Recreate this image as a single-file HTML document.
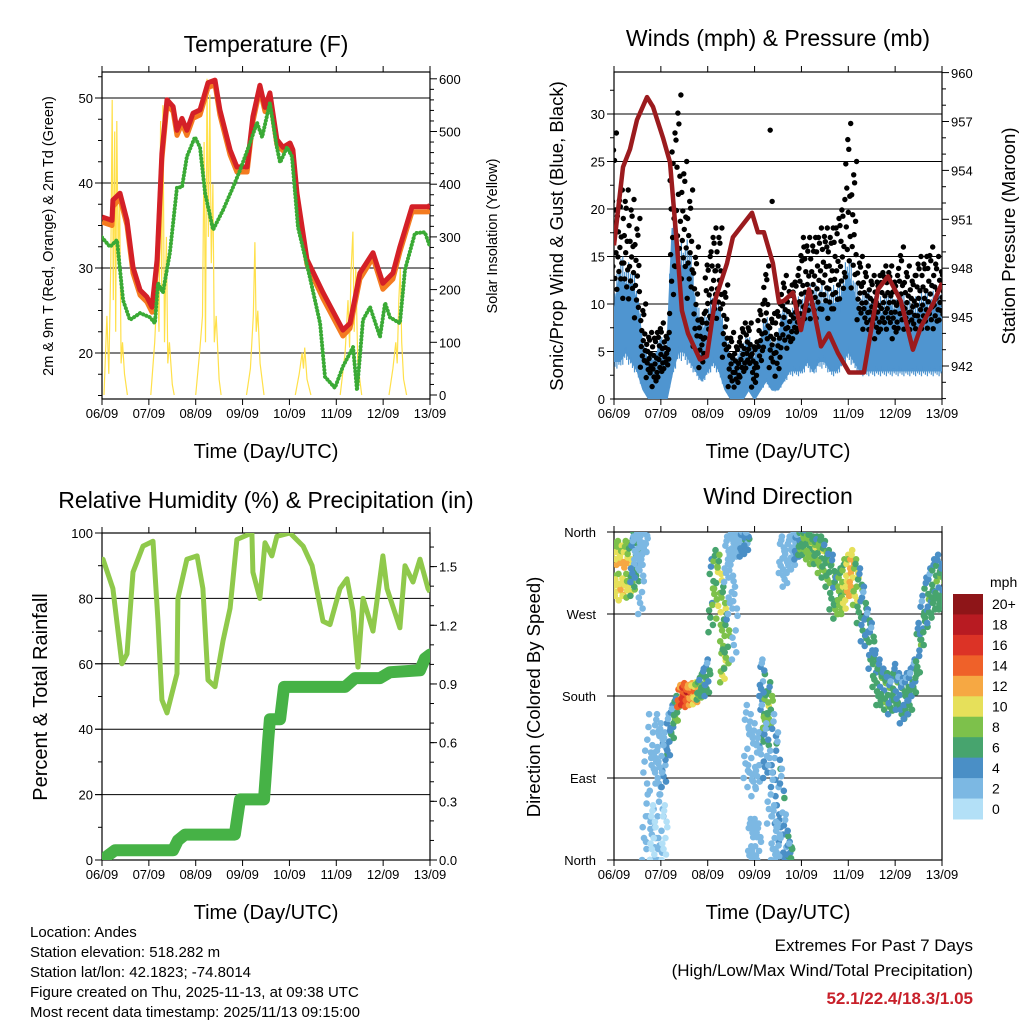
<!DOCTYPE html>
<html><head><meta charset="utf-8"><title>Station Meteogram</title>
<style>
html,body{margin:0;padding:0;background:#fff;}
svg{display:block;font-family:"Liberation Sans",Arial,sans-serif;}
</style></head>
<body>
<svg id="chart" width="1024" height="1024" viewBox="0 0 1024 1024" xmlns="http://www.w3.org/2000/svg">
<defs>
<clipPath id="c1"><rect x="102" y="72" width="328" height="327"/></clipPath>
<clipPath id="c2"><rect x="614" y="72" width="328" height="327"/></clipPath>
<clipPath id="c3"><rect x="102" y="533" width="328" height="327"/></clipPath>
<clipPath id="c4"><rect x="614" y="532" width="328" height="328"/></clipPath>
</defs>
<g id="root"></g>
<text x="266" y="52" font-size="23" text-anchor="middle">Temperature (F)</text>
<text x="778" y="46" font-size="23" text-anchor="middle">Winds (mph) &amp; Pressure (mb)</text>
<text x="266" y="508" font-size="23" text-anchor="middle">Relative Humidity (%) &amp; Precipitation (in)</text>
<text x="778" y="504" font-size="23" text-anchor="middle">Wind Direction</text>
<text x="266" y="458" font-size="20" text-anchor="middle">Time (Day/UTC)</text>
<text x="778" y="458" font-size="20" text-anchor="middle">Time (Day/UTC)</text>
<text x="266" y="919" font-size="20" text-anchor="middle">Time (Day/UTC)</text>
<text x="778" y="919" font-size="20" text-anchor="middle">Time (Day/UTC)</text>
<text transform="translate(53,236) rotate(-90)" font-size="14.5" text-anchor="middle">2m &amp; 9m T (Red, Orange) &amp; 2m Td (Green)</text>
<text transform="translate(497,236) rotate(-90)" font-size="14.5" text-anchor="middle">Solar Insolation (Yellow)</text>
<text transform="translate(563,236) rotate(-90)" font-size="18.5" text-anchor="middle">Sonic/Prop Wind &amp; Gust (Blue, Black)</text>
<text transform="translate(1015,236) rotate(-90)" font-size="18.5" text-anchor="middle">Station Pressure (Maroon)</text>
<text transform="translate(47,697) rotate(-90)" font-size="20" text-anchor="middle">Percent &amp; Total Rainfall</text>
<text transform="translate(540,697) rotate(-90)" font-size="18.5" text-anchor="middle">Direction (Colored By Speed)</text>
<g font-size="15">
<text x="30" y="937">Location: Andes</text>
<text x="30" y="957">Station elevation: 518.282 m</text>
<text x="30" y="977">Station lat/lon: 42.1823; -74.8014</text>
<text x="30" y="997">Figure created on Thu, 2025-11-13, at 09:38 UTC</text>
<text x="30" y="1017">Most recent data timestamp: 2025/11/13 09:15:00</text>
</g>
<text x="973" y="951" font-size="17" text-anchor="end">Extremes For Past 7 Days</text>
<text x="973" y="976" font-size="17" text-anchor="end">(High/Low/Max Wind/Total Precipitation)</text>
<text x="973" y="1004" font-size="17" font-weight="bold" fill="#c8202a" text-anchor="end">52.1/22.4/18.3/1.05</text>
</svg>
<script>
const dayLabels = ["06/09","07/09","08/09","09/09","10/09","11/09","12/09","13/09"];
const tempTimes = [0,5.1,5.6,9.2,12.8,15.9,19.5,23,25.6,28.2,30.7,33.3,36.4,38.4,41,43.5,46.6,50.2,54.3,57.9,60.4,65.6,69.1,74.3,77.3,80.9,83.5,86,89.6,92.7,96.3,97.8,99.9,105,113.2,123.4,127,132.1,138.8,143.9,149,152.6,158.8,167,168];
const temp9m = [36.0,35.6,38,38.8,35.6,30.1,27.4,26.6,25.4,31,43.5,49.8,49,46.2,47.6,46.2,48.2,48.6,51.8,52.1,48.6,43.9,41.9,41.9,47.8,51.5,48.9,50.6,45.1,44.2,44.7,43.9,38.8,31,27.1,22.7,23.5,29.4,31.8,28.2,29.4,32.5,37.2,37.2,37.4];
const temp2m = [35.4,35.0,37.2,38.2,35.0,29.4,26.8,26.0,24.8,30.3,42.8,49.2,48.4,45.6,47.0,45.6,47.6,48.0,51.2,51.6,48.0,43.3,41.3,41.3,47.2,51.0,48.4,50.1,44.5,43.8,44.2,43.5,38.3,30.4,26.4,22.0,22.9,28.7,31.2,27.5,28.7,31.9,36.6,36.6,36.8];
const tdTimes = [0,4.1,7.7,10.8,14.3,19.5,24.6,27.1,28.7,31.2,34.8,38.4,41,43.5,47.6,50.2,52.8,56.9,62,67.1,70.7,75.8,79.4,82,86,89.6,91.2,94.8,97.3,100.4,106.5,111.7,114.2,119.3,123.4,128.6,130.6,133.7,137.3,142.4,145,147.5,152.6,155.2,160.3,165.4,168];
const dewPoint = [33.6,32.5,33.3,26.2,23.9,24.7,24.2,23.5,28.2,27.1,31.8,39.5,39.5,43.1,45.4,44.2,38.8,34.5,36.8,39.5,41.5,44.7,47.1,45.4,49.4,44.2,42.4,44.2,43.1,34.8,28.9,23.5,17.2,15.9,18.4,20.7,15.6,23.9,25.4,21.9,25.9,24.2,23.5,29.8,34.1,34.2,32.5];
const solarTimes = [0,1,2.5,3.5,4.5,5.2,5.8,6.5,7,7.6,8.3,9,9.8,10.5,11.5,13,25,27,28.5,29.2,30,30.6,31.2,32,33,33.7,34.5,36,37,48,50,51.5,52.3,53,53.8,54.5,55.2,56,56.8,57.5,58.5,60,61,74,76,77.5,78.3,79,79.8,81,83,99,101,102.5,103.2,103.8,105,107,122,124.5,126,126.8,127.5,128.5,129.2,130,131,133,147,149,150.5,151.2,152,152.8,153.5,154.5,156,168];
const solarValues = [0,0,150,40,250,560,180,500,120,520,250,380,60,100,40,0,0,100,220,120,520,200,550,100,300,60,100,20,0,0,80,150,480,100,600,300,570,250,400,100,150,30,0,0,50,150,290,120,160,60,0,0,40,80,50,90,30,0,0,80,180,90,230,310,120,240,60,0,0,50,100,60,180,240,100,30,0,0];
const windTimes = [0,3,6,9,12,15,18,21,24,27,30,33,36,39,42,45,48,51,54,57,60,63,66,69,72,75,78,81,84,87,90,93,96,99,102,105,108,111,114,117,120,123,126,129,132,135,138,141,144,147,150,153,156,159,162,165,168];
const windLo = [4,4,5,4,3,1,0,0,0,0,3,5,5,4,3,2,3,4,3,1,0,0,0,1,0,1,2,1,1,2,3,3,3,4,3,4,4,3,3,4,5,4,3,3,3,3,3,3,3,3,3,3,3,3,3,3,3];
const windHi = [9,13,12,12,10,5,4,4,6,4,18,14,14,14,9,7,8,10,9,6,4,4,5,6,4,6,8,5,6,9,7,9,9,10,10,10,10,10,10,11,13,11,9,10,9,9,9,10,9,10,9,9,9,10,9,10,10];
const gustLo = [10,11,10,10,8,3,2,1,2,3,8,13,12,10,5,3,6,8,8,4,1,1,2,3,1,3,5,3,2,5,5,6,7,8,8,8,9,8,9,10,12,11,8,7,7,6,7,7,6,7,7,7,7,7,7,7,8];
const gustHi = [28,22,22,21,19,10,7,7,8,7,28,32,25,22,16,9,15,18,18,12,7,6,8,8,6,10,14,9,10,13,12,13,16,17,17,18,18,18,19,21,29,25,15,14,13,13,14,14,13,16,14,13,15,15,16,15,14];
const gustOutlierTimes = [80,81,52,97,109];
const gustOutlierValues = [28.3,20.8,13.5,17,16];
const pressTimes = [0,4.6,8.2,11.8,16.9,20,25.1,28.7,32.3,34.8,37.9,44,47.6,51.7,57.9,60.9,70.7,73.7,76.8,81.4,84.5,87,91.7,95.8,99.9,102.4,106,110.1,114.7,120.4,128,135.2,140.3,146.9,153.1,157.2,163.8,168];
const pressure = [949.4,954.2,955.3,957.1,958.5,957.9,956,954.5,949.3,945.4,944,942.4,942.6,946,948.3,949.9,951.4,950.2,950.2,948.3,945.9,946,946.5,944.2,946.7,945.4,943.2,944,942.8,941.6,941.6,946.7,947.5,946,943,944.4,945.9,947.1];
const rhTimes = [0,0.5,5.6,10.2,12.8,15.9,21,26.1,28.7,30.7,33.3,38.4,38.9,43.5,48.7,51.7,54.3,57.9,62,65.6,69.1,76.8,77.3,80.9,83.5,87,89.6,96.3,103,107.6,113.2,116.8,121.9,125.5,128.6,131.1,133.7,138.8,143.9,146,152.6,155.2,159.3,162.9,167,168];
const rhValues = [91,92,83,60,63,88,96,97.5,73,49,45,57,80,92,93,83,55,53,67,77,98,100,88,80,97,93,99,100,96,90,73,72,83,86,76,59,80,70,93,83,71,90,85,92,83,82];
const precipTimes = [0,6.7,36.4,38.9,42.5,68,70.7,83,84,85,86,91.2,93.2,124.5,129.6,142.4,147.5,162.9,165.4,168];
const precipValues = [0,0.05,0.05,0.1,0.13,0.13,0.31,0.31,0.45,0.6,0.72,0.72,0.885,0.885,0.93,0.93,0.96,0.97,1.03,1.05];
const dirTimes = [0,2,4,6,8,10,12,14,16,18,20,22,24,26,28,30,32,34,36,38,40,42,44,46,48,50,52,54,56,58,60,62,64,66,68,70,72,74,76,78,80,82,84,86,88,90,92,94,96,98,100,102,104,106,108,110,112,114,116,118,120,122,124,126,128,130,132,134,136,138,140,142,144,146,148,150,152,154,156,158,160,162,164,166,168];
const dirValues = [318,320,315,320,318,325,330,340,350,90,70,60,40,110,135,150,165,180,182,180,182,183,188,195,200,290,310,300,270,330,345,345,350,348,350,20,20,15,150,165,170,120,90,60,20,335,340,345,350,350,345,340,340,335,330,320,305,290,295,300,310,315,305,290,270,255,235,210,195,190,185,180,190,185,175,180,185,200,230,260,280,290,300,305,300];
const dirSpread = [30,30,30,30,30,35,30,20,15,70,70,60,40,30,25,20,15,12,12,12,12,12,12,15,20,40,30,35,30,25,15,15,12,15,12,25,25,25,25,20,25,40,50,40,30,20,20,15,15,15,15,15,15,20,20,20,30,25,25,30,25,25,25,30,30,20,25,20,25,20,20,20,25,20,25,25,25,20,30,30,30,30,30,30,25];
const dirSpeeds = [9,9,10,9,8,6,5,2,1,1,1,1,1,3,3,4,6,13,15,13,12,10,6,5,4,5,7,8,7,2,2,1,2,3,3,1,1,1,4,7,6,3,3,3,3,2,2,3,6,6,7,7,6,7,6,6,5,6,7,8,10,11,8,5,4,4,4,5,5,5,6,4,5,4,4,4,4,4,5,4,5,4,5,5,5];
const dir2Times = [10,12,14,16,20,22,24,26,56,58,60,62,68,70,72,74,76,78,80,82,84,86,88,90];
const dir2Values = [330,345,300,60,30,130,120,30,215,240,300,260,130,120,110,110,200,120,80,30,20,335,320,10];
const dir2Spread = [25,15,30,60,30,30,30,30,20,30,30,40,40,40,40,30,20,30,40,30,20,20,20,10];
const dir2Speeds = [3,2,2,1,0,2,2,0,8,6,1,1,1,1,2,2,3,3,2,1,2,2,1,4];
const speedLabels = ["0","2","4","6","8","10","12","14","16","18","20+"];
const speedColors = ["#b3e0f7","#7cb8e3","#4a8fc6","#47a46e","#7dc14b","#e6e05a","#f6a843","#ef6129","#dc3326","#b81b22","#8e1518"];

const NS = "http://www.w3.org/2000/svg";
const root = document.getElementById("root");
function mk(tag, attrs, parent) {
  const e = document.createElementNS(NS, tag);
  for (const k in attrs) e.setAttribute(k, attrs[k]);
  (parent || root).appendChild(e);
  return e;
}
function panel(x0, x1, y0, y1) { return { x0, x1, y0, y1, x: t => x0 + t / 168 * (x1 - x0) }; }
const P1 = panel(102, 430, 72, 399), P2 = panel(614, 942, 72, 399), P3 = panel(102, 430, 533, 860), P4 = panel(614, 942, 532, 860);
const yTemp = v => 353 - (v - 20) * 8.5;
const ySolar = v => 395 - v * 0.527;
const yMph = v => 399 - v * 9.5;
const yPres = v => 366 - (v - 942) * 16.3;
const yRH = v => 860 - v * 3.27;
const yPrecip = v => 860 - v * 195.6;
const yDir = v => 860 - v / 360 * 328;

function frame(P, name) {
  const g = mk("g", {});
  
  
  for (let i = 0; i < dayLabels.length; i++) {
    const x = P.x(i * 24);
    mk("line", { x1: x, x2: x, y1: P.y1, y2: P.y1 + 6, stroke: "#000", "stroke-width": 1 }, g);
    mk("line", { x1: x, x2: x, y1: P.y0, y2: P.y0 - 6, stroke: "#000", "stroke-width": 1 }, g);
    const t = mk("text", { x: x, y: P.y1 + 19, "font-size": 13, "text-anchor": "middle" }, g);
    t.textContent = dayLabels[i];
    
    
  }
  return g;
}
function box(P, g) { mk("rect", { x: P.x0, y: P.y0, width: P.x1 - P.x0, height: P.y1 - P.y0, fill: "none", stroke: "#000", "stroke-width": 1.2 }, g); }
function hgrid(P, y, g) { mk("line", { x1: P.x0 - 7, x2: P.x1, y1: y, y2: y, stroke: "#000", "stroke-width": 1 }, g); }
function rtick(P, y, len, g) { mk("line", { x1: P.x1, x2: P.x1 + len, y1: y, y2: y, stroke: "#000", "stroke-width": 1 }, g); }
function ltick(P, y, len, g) { mk("line", { x1: P.x0, x2: P.x0 - len, y1: y, y2: y, stroke: "#000", "stroke-width": 1 }, g); }
function label(x, y, txt, anchor, size, g, name) {
  const t = mk("text", { x: x, y: y + 5, "font-size": size || 13, "text-anchor": anchor }, g);
  t.textContent = txt;
  
  
  return t;
}
function pathFrom(ts, vs, P, yf) {
  let d = "";
  for (let i = 0; i < ts.length; i++) d += (i ? "L" : "M") + P.x(ts[i]).toFixed(1) + " " + yf(vs[i]).toFixed(1);
  return d;
}
function colorFor(s) {
  let i = Math.round(s / 2);
  if (i < 0) i = 0; if (i > 10) i = 10;
  return speedColors[i];
}

// panel 1
{
  const g = frame(P1, "temperature");
  [20, 30, 40, 50].forEach(v => { hgrid(P1, yTemp(v), g); label(P1.x0 - 9, yTemp(v), String(v), "end", 13, g, 'temp-y-tick'); });
  for (let v = 15; v <= 53; v += 2.5) ltick(P1, yTemp(v), 4, g);
  for (let v = 0; v <= 600; v += 20) rtick(P1, ySolar(v), v % 100 === 0 ? 7 : 4, g);
  for (let v = 0; v <= 600; v += 100) label(P1.x1 + 9, ySolar(v), String(v), "start", 13, g, 'solar-y-tick');
  const c = mk("g", { "clip-path": "url(#c1)" });
  let d = "", pen = false;
  for (let i = 0; i < solarTimes.length; i++) {
    const x = P1.x(solarTimes[i]).toFixed(1), y = ySolar(solarValues[i]).toFixed(1);
    if (i > 0 && solarValues[i] === 0 && solarValues[i - 1] === 0) { pen = false; }
    d += (pen ? "L" : "M") + x + " " + y;
    pen = true;
  }
  const s = mk("path", { d: d, fill: "none", stroke: "#ffe04a", "stroke-width": 1.2 }, c);
  
  
  const o = mk("path", { d: pathFrom(tempTimes, temp2m, P1, yTemp), fill: "none", stroke: "#f47b20", "stroke-width": 5, "stroke-linejoin": "round" }, c);
  
  
  const r = mk("path", { d: pathFrom(tempTimes, temp9m, P1, yTemp), fill: "none", stroke: "#d42027", "stroke-width": 5, "stroke-linejoin": "round" }, c);
  
  
  const dp = mk("path", { d: pathFrom(tdTimes, dewPoint, P1, yTemp), fill: "none", stroke: "#3aaa35", "stroke-width": 4, "stroke-dasharray": "0.1 3.4", "stroke-linecap": "round" }, c);
  
  
  box(P1, g);
}

// panel 2
{
  const g = frame(P2, "winds");
  [5, 10, 15, 20, 25, 30].forEach(v => hgrid(P2, yMph(v), g));
  [0, 5, 10, 15, 20, 25, 30].forEach(v => label(P2.x0 - 9, yMph(v), String(v), "end", 13, g, 'wind-y-tick'));
  for (let v = 0; v <= 34; v += 2.5) ltick(P2, yMph(v), 4, g);
  for (let v = 940; v <= 960; v += 1) { const y = yPres(v); if (y >= 72 && y <= 399) rtick(P2, y, v % 3 === 0 ? 7 : 4, g); }
  for (let v = 942; v <= 960; v += 3) label(P2.x1 + 9, v === 960 ? 73 : yPres(v), String(v), "start", 13, g, 'pressure-y-tick');
  const c = mk("g", { "clip-path": "url(#c2)" });
  let d = "";
  for (let i = 0; i < windTimes.length; i++) d += (i ? "L" : "M") + P2.x(windTimes[i]).toFixed(1) + " " + yMph(windHi[i]).toFixed(1);
  for (let i = windTimes.length - 1; i >= 0; i--) d += "L" + P2.x(windTimes[i]).toFixed(1) + " " + yMph(windLo[i]).toFixed(1);
  const band = mk("path", { d: d + "Z", fill: "#4f95d0", stroke: "#4f95d0", "stroke-width": 2 }, c);
  
  
  const jag = [0.9, 1.15, 0.95, 1.2, 0.85, 1.1];
  const stepW = P2.x(3) - P2.x(0);
  let sd = "";
  for (let i = 0; i < windTimes.length - 1; i++) {
    for (let k = 0; k < jag.length; k++) {
      const f = k / jag.length;
      const hi = (windHi[i] + (windHi[i + 1] - windHi[i]) * f) * jag[k];
      const lo = (windLo[i] + (windLo[i + 1] - windLo[i]) * f) * (2 - jag[k]);
      const x = (P2.x(windTimes[i]) + f * stepW).toFixed(1);
      sd += "M" + x + " " + yMph(hi).toFixed(1) + "L" + x + " " + yMph(lo).toFixed(1);
    }
  }
  const sp = mk("path", { d: sd, stroke: "#4f95d0", "stroke-width": 1.2, fill: "none" }, c);
  
  
  const fr = [0.05, 0.9, 0.3, 0.6, 0.15, 0.75, 0.45, 1.0, 0.22, 0.55, 0.36, 0.84];
  const gg = mk("g", {}, c);
  
  
  for (let i = 0; i < windTimes.length; i++) {
    for (let k = 0; k < fr.length; k++) {
      const v = gustLo[i] + (gustHi[i] - gustLo[i]) * fr[k];
      const dx = ((k * 5) % fr.length) / fr.length - 0.5;
      const dot = mk("circle", { cx: (P2.x(windTimes[i]) + dx * stepW).toFixed(1), cy: yMph(v).toFixed(1), r: 2.7, fill: "#000" }, gg);
      
      
    }
  }
  for (let i = 0; i < gustOutlierTimes.length; i++) {
    const dot = mk("circle", { cx: P2.x(gustOutlierTimes[i]), cy: yMph(gustOutlierValues[i]), r: 2.7, fill: "#000" }, gg);
    
    
  }
  const p = mk("path", { d: pathFrom(pressTimes, pressure, P2, yPres), fill: "none", stroke: "#9b1b1e", "stroke-width": 4.5, "stroke-linejoin": "round" }, c);
  
  
  box(P2, g);
}

// panel 3
{
  const g = frame(P3, "humidity");
  [20, 40, 60, 80].forEach(v => hgrid(P3, yRH(v), g));
  [0, 20, 40, 60, 80, 100].forEach(v => label(P3.x0 - 9, yRH(v), String(v), "end", 13, g, 'rh-y-tick'));
  for (let v = 0; v <= 100; v += 10) ltick(P3, yRH(v), v % 20 === 0 ? 7 : 4, g);
  for (let v = 0; v <= 1.65; v += 0.1) rtick(P3, yPrecip(v), 4, g);
  for (let i = 0; i <= 5; i++) { const v = i * 0.3; rtick(P3, yPrecip(v), 7, g); label(P3.x1 + 9, yPrecip(v), v.toFixed(1), "start", 13, g, 'precip-y-tick'); }
  const c = mk("g", { "clip-path": "url(#c3)" });
  const rh = mk("path", { d: pathFrom(rhTimes, rhValues, P3, yRH), fill: "none", stroke: "#8fc94b", "stroke-width": 5, "stroke-linejoin": "round" }, c);
  
  
  const pr = mk("path", { d: pathFrom(precipTimes, precipValues, P3, yPrecip), fill: "none", stroke: "#46b246", "stroke-width": 12, "stroke-linejoin": "round", "stroke-linecap": "round" }, c);
  
  
  box(P3, g);
}

// panel 4
{
  const g = frame(P4, "direction");
  const names = ["North", "East", "South", "West", "North"];
  [0, 90, 180, 270, 360].forEach((v, i) => {
    if (v > 0 && v < 360) hgrid(P4, yDir(v), g);
    else ltick(P4, yDir(v), 7, g);
    label(P4.x0 - 18, yDir(v), names[i], "end", 13, g, 'direction-y-tick');
  });
  const c = mk("g", { "clip-path": "url(#c4)" });
  const off = [-1, -0.6, -0.2, 0.2, 0.6, 1, 0.4, -0.4, 0.8, -0.8];
  const sp = [0, 1, -1, 2, 0, -1, 1, 0, -2, 1];
  const step = P4.x(2) - P4.x(0);
  function drawSet(ts, vs, sps, spd, name) {
    const gs = mk("g", {}, c);
    
    
    for (let i = 0; i < ts.length; i++) {
      for (let k = 0; k < off.length; k++) {
        const dir = vs[i] + off[k] * sps[i];
        const s = Math.max(0, spd[i] + (spd[i] > 2 ? sp[k] : 0));
        const dx = ((k * 3) % off.length) / off.length - 0.5;
        const dot = mk("circle", { cx: (P4.x(ts[i]) + dx * step * 1.6).toFixed(1), cy: yDir(dir).toFixed(1), r: 3.3, fill: colorFor(s) }, gs);
        
        
      }
    }
  }
  drawSet(dirTimes, dirValues, dirSpread, dirSpeeds, 'direction-points-main');
  drawSet(dir2Times, dir2Values, dir2Spread, dir2Speeds, 'direction-points-secondary');
  box(P4, g);
  const cb = mk("g", {});
  
  
  const top = 594, h = (819 - 594) / 11;
  for (let i = 0; i < 11; i++) {
    const idx = 10 - i;
    const r = mk("rect", { x: 953, y: top + i * h, width: 30, height: h + 0.5, fill: speedColors[idx] }, cb);
    
    
    const t = mk("text", { x: 992, y: top + i * h + h / 2 + 5, "font-size": 14 }, cb);
    t.textContent = speedLabels[idx];
    
    
  }
  const u = mk("text", { x: 990, y: 587, "font-size": 14 }, cb);
  u.textContent = "mph";
  
  
}
</script>
</body></html>
